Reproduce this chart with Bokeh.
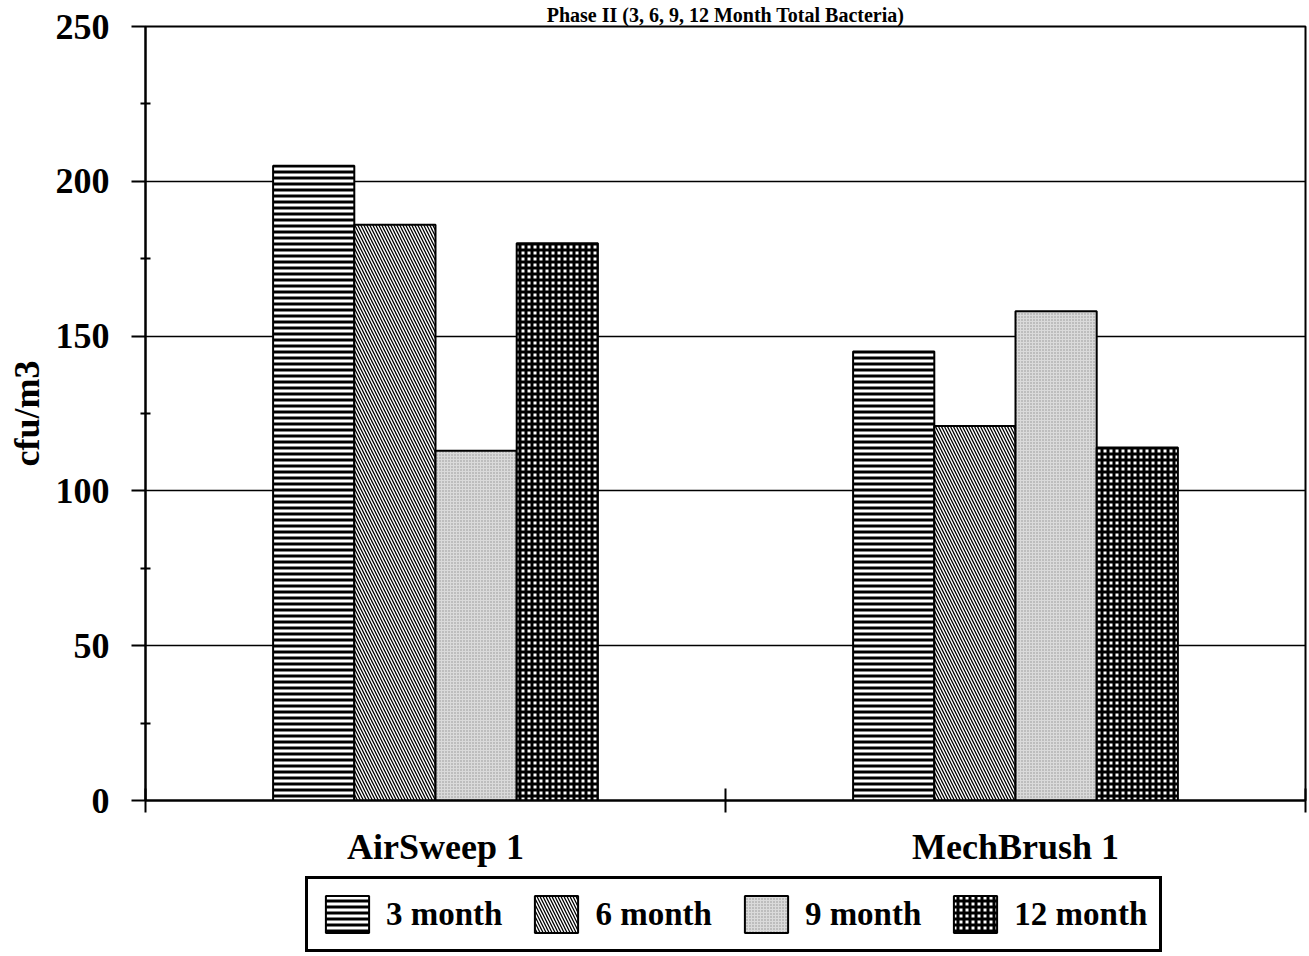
from bokeh.plotting import figure
from bokeh.layouts import column
from bokeh.models import (Range1d, FixedTicker, Legend, LegendItem,
                          ColumnDataSource)
from bokeh.transform import dodge
from bokeh.embed import file_html
from bokeh.resources import INLINE

# ---- data ----
categories = ["AirSweep 1", "MechBrush 1"]
series = ["3 month", "6 month", "9 month", "12 month"]
month3 = [205, 145]
month6 = [186, 121]
month9 = [113, 158]
month12 = [180, 114]
y_ticks = [0, 50, 100, 150, 200, 250]
title_text = "Phase II (3, 6, 9, 12 Month Total Bacteria)"
y_label = "cfu/m3"

FONT = "Liberation Serif"

xpos = [i + 0.5 for i in range(len(categories))]
source = ColumnDataSource(dict(x=xpos, cat=categories, m3=month3, m6=month6,
                               m9=month9, m12=month12))

p = figure(width=1309, height=870, x_range=Range1d(0, len(categories)),
           y_range=Range1d(0, 250), output_backend="svg",
           toolbar_location=None, min_border_left=145, min_border_right=4,
           min_border_top=0, min_border_bottom=70)

p.title.text = title_text
p.title.align = "center"
p.title.text_font = FONT
p.title.text_font_style = "bold"
p.title.text_font_size = "20px"
p.title.text_color = "black"
p.title.standoff = 2

p.background_fill_color = "white"
p.border_fill_color = "white"
p.outline_line_color = "black"
p.outline_line_width = 2

# grid
p.xgrid.visible = False
p.ygrid.grid_line_color = "black"
p.ygrid.grid_line_width = 1.5
p.ygrid.grid_line_alpha = 1.0

# y axis
p.yaxis.ticker = FixedTicker(ticks=y_ticks,
                             minor_ticks=[v + 25 for v in y_ticks[:-1]])
p.yaxis.axis_line_color = "black"
p.yaxis.axis_line_width = 2
p.yaxis.major_tick_out = 14
p.yaxis.major_tick_in = 0
p.yaxis.major_tick_line_width = 2
p.yaxis.minor_tick_out = 5
p.yaxis.minor_tick_in = 5
p.yaxis.minor_tick_line_width = 2
p.yaxis.major_label_standoff = 22
p.yaxis.major_label_text_font = FONT
p.yaxis.major_label_text_font_style = "bold"
p.yaxis.major_label_text_font_size = "36px"
p.yaxis.major_label_text_color = "black"
p.yaxis.axis_label = y_label
p.yaxis.axis_label_text_font = FONT
p.yaxis.axis_label_text_font_style = "bold"
p.yaxis.axis_label_text_font_size = "36px"
p.yaxis.axis_label_text_color = "black"
p.yaxis.axis_label_standoff = 6

# x axis
p.xaxis.ticker = FixedTicker(ticks=xpos,
                             minor_ticks=list(range(len(categories) + 1)))
p.xaxis.major_label_overrides = {x: c for x, c in zip(xpos, categories)}
p.xaxis.axis_line_color = "black"
p.xaxis.axis_line_width = 2
p.xaxis.major_tick_line_color = None
p.xaxis.major_tick_out = 0
p.xaxis.major_tick_in = 0
p.xaxis.minor_tick_out = 12
p.xaxis.minor_tick_in = 12
p.xaxis.minor_tick_line_width = 2
p.xaxis.major_label_standoff = 14
p.xaxis.major_label_text_font = FONT
p.xaxis.major_label_text_font_style = "bold"
p.xaxis.major_label_text_font_size = "36px"
p.xaxis.major_label_text_color = "black"

# bars
cols = ["m3", "m6", "m9", "m12"]
offsets = [-0.21, -0.07, 0.07, 0.21]
styles = [
    dict(fill_color="white", hatch_pattern="-", hatch_color="black",
         hatch_scale=6, hatch_weight=3),
    dict(fill_color="white", hatch_pattern="\\", hatch_color="black",
         hatch_scale=6, hatch_weight=1.3),
    dict(fill_color="#dadada", hatch_pattern=".", hatch_color="#909090",
         hatch_scale=3, hatch_weight=1),
    dict(fill_color="white", hatch_pattern="+", hatch_color="black",
         hatch_scale=6, hatch_weight=3),
]
for col, off, st in zip(cols, offsets, styles):
    p.vbar(x=dodge("x", off, range=p.x_range), top=col, width=0.14,
           source=source, line_color="black", line_width=2, **st)

# legend strip below the chart: hidden proxy renderers, swatches only
lf = figure(width=1309, height=86, x_range=Range1d(0, len(categories)),
            y_range=Range1d(0, 250), output_backend="svg",
            toolbar_location=None, min_border=0)
lf.axis.visible = False
lf.grid.visible = False
lf.outline_line_color = None
lf.background_fill_color = "white"
lf.border_fill_color = "white"
leg_renderers = []
for col, off, st in zip(cols, offsets, styles):
    r = lf.vbar(x=dodge("x", off, range=lf.x_range), top=col, width=0.14,
                source=source, line_color="black", line_width=2, **st)
    r.visible = False
    leg_renderers.append(r)

legend = Legend(items=[LegendItem(label=s, renderers=[r])
                       for s, r in zip(series, leg_renderers)],
                orientation="horizontal", location=(160, 4),
                border_line_color="black", border_line_width=3,
                border_line_alpha=1.0,
                background_fill_color="white",
                inactive_fill_alpha=0.0,
                label_text_font=FONT, label_text_font_style="bold",
                label_text_font_size="33px", label_text_color="black",
                glyph_width=54, glyph_height=46, spacing=27, padding=12,
                margin=0, label_standoff=12)
lf.add_layout(legend)

layout = column(p, lf, spacing=0)
open("out.html", "w").write(file_html(layout, INLINE))
